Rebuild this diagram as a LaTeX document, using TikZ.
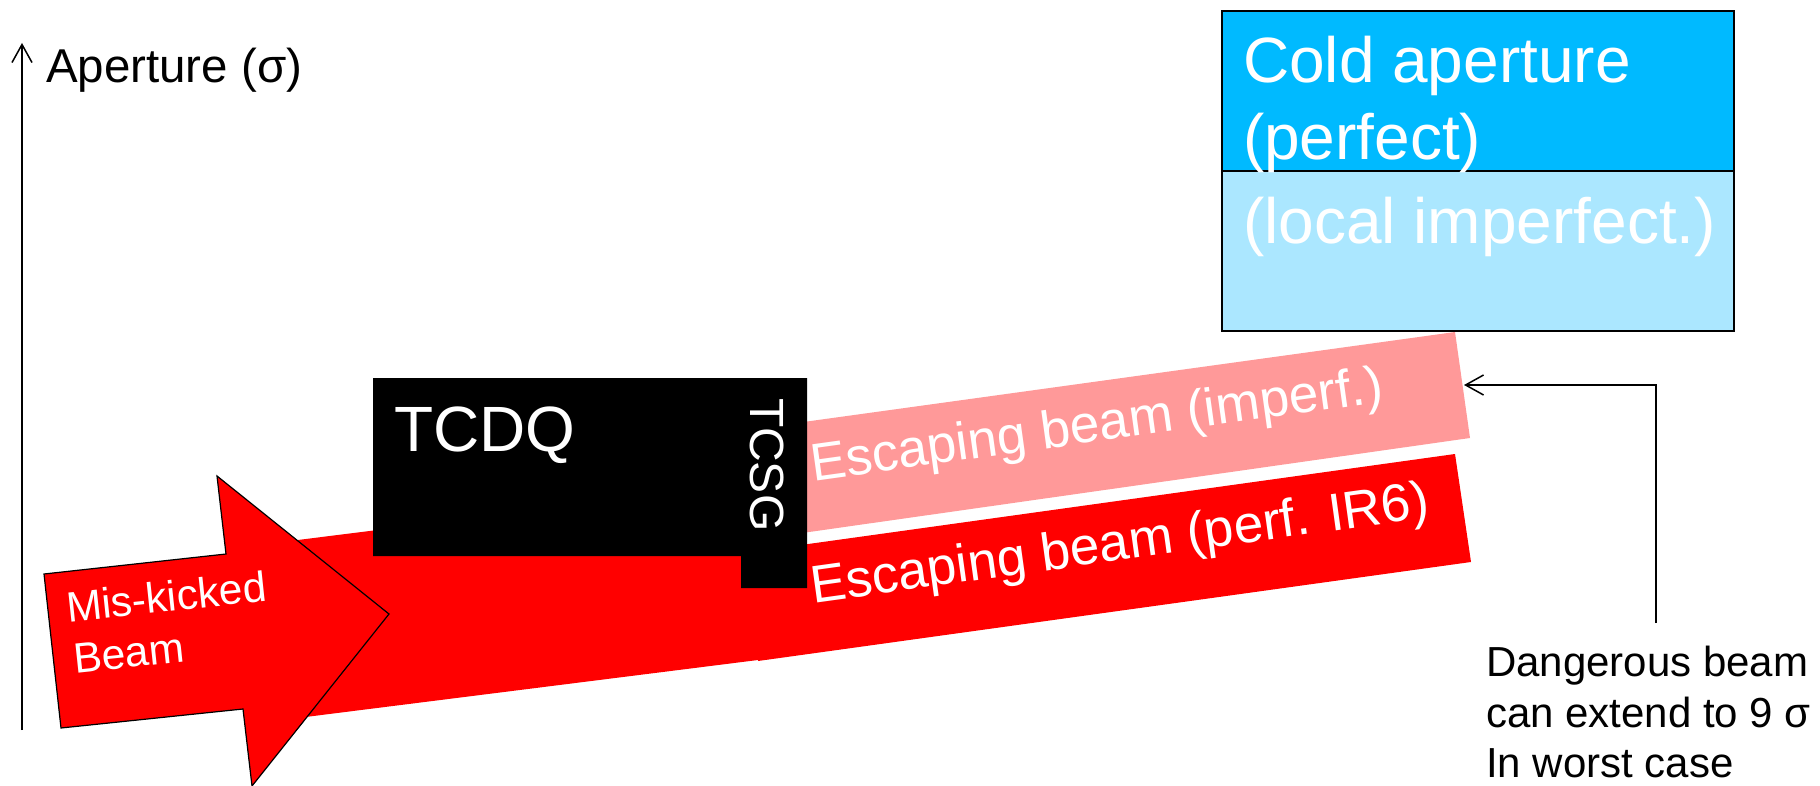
\documentclass[tikz,border=0pt]{standalone}
\usepackage{fontspec}
\setmainfont{Liberation Sans}
\usetikzlibrary{arrows.meta}
\definecolor{beamred}{RGB}{255,0,0}
\definecolor{beampink}{RGB}{255,153,153}
\definecolor{colddeep}{RGB}{0,186,255}
\definecolor{coldpale}{RGB}{171,231,255}

\begin{document}
\begin{tikzpicture}[x=1pt,y=-1pt,
  lbl/.style={inner sep=0pt, outer sep=0pt, anchor=base west},
  barb/.style={-{Straight Barb[length=18pt,width=20pt]}, line width=1.5pt},
  bigtxt/.style={lbl, text=white, font=\fontsize{64}{77}\selectfont},
  beamtxt/.style={lbl, text=white, rotate=7.9, font=\fontsize{53}{64}\selectfont},
  kicktxt/.style={lbl, text=white, rotate=6, font=\fontsize{42.5}{51}\selectfont},
  notetxt/.style={lbl, text=black, font=\fontsize{42}{50}\selectfont},
  frame/.style={draw=black, line width=2pt}]

\useasboundingbox (0,0) rectangle (1820,786);

% vertical aperture axis
\coordinate (axisfoot) at (22,730);
\coordinate (axishead) at (22,43);
\draw[barb] (axisfoot) -- (axishead);
\node[lbl, font=\fontsize{47.5}{57}\selectfont] (axislabel) at (46,83) {Aperture (σ)};

% beam bands (partly hidden behind the collimators)
\fill[beamred] (250,546) -- (760,482) -- (758,660) -- (250,724) -- cycle;
\fill[beamred] (758,551) -- (1455,454) -- (1471,562) -- (758,661) -- cycle;
\fill[beampink] (760,428) -- (1455,332) -- (1470,438) -- (760,539) -- cycle;

% TCDQ block with the TCSG jaw
\fill[black] (373,378) -- (807,378) -- (807,588) -- (741,588) -- (741,556) -- (373,556) -- cycle;
\node[bigtxt] (tcdq) at (394,451) {TCDQ};
\node[lbl, text=white, rotate=-90, font=\fontsize{48}{58}\selectfont] (tcsg) at (750,398) {TCSG};

% mis-kicked beam arrow
\draw[fill=beamred, line width=1.2pt, line join=miter]
  (44,574) -- (226,554) -- (217,476) -- (389,614) -- (252,786) -- (243,709) -- (61,728) -- cycle;
\node[kicktxt] (kick1) at (68,622) {Mis-kicked};
\node[kicktxt] (kick2) at (75,673) {Beam};

% band labels
\node[beamtxt] (imperf) at (813,481) {Escaping beam (imperf.)};
\node[beamtxt] (perf) at (813,603) {Escaping beam (perf. IR6)};

% cold aperture box
\fill[colddeep] (1222,11) rectangle (1734,171);
\fill[coldpale] (1222,171) rectangle (1734,331);
\draw[frame] (1222,11) rectangle (1734,331);
\draw[frame] (1222,171) -- (1734,171);
\node[bigtxt] (cold1) at (1243,83) {Cold aperture};
\node[bigtxt] (cold2) at (1243,160) {(perfect)};
\node[bigtxt] (cold3) at (1243,244) {(local imperfect.)};

% note on the dangerous beam
\node[notetxt] (note1) at (1486,676) {Dangerous beam};
\node[notetxt] (note2) at (1486,727) {can extend to 9 σ};
\node[notetxt] (note3) at (1486,777) {In worst case};
\coordinate (notefoot) at (1656,623);
\coordinate (pinkedge) at (1464,385);
\draw[barb] (notefoot) |- (pinkedge);

\end{tikzpicture}
\end{document}
